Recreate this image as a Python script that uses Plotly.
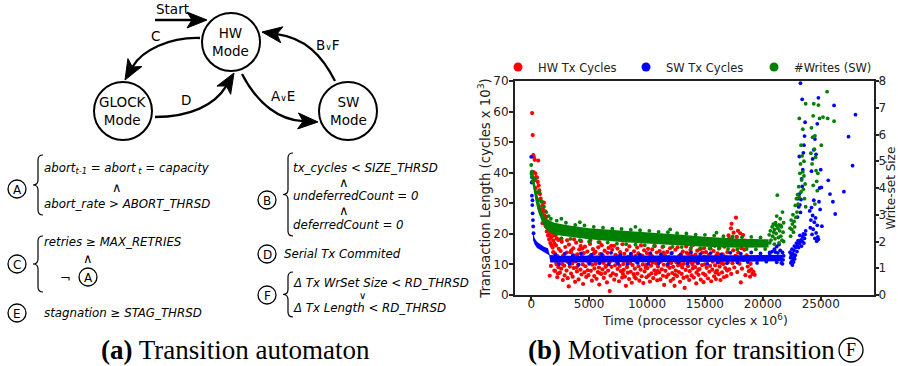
import math
import plotly.graph_objects as go

W, H = 898, 366

# ---------------- data ----------------
time_ticks = [0, 5000, 10000, 15000, 20000, 25000]
time_ticktext = ["0", "5000", "10000", "15000", "20000", "25000"]
len_ticks = [0, 10, 20, 30, 40, 50, 60, 70]
ws_ticks = [0, 1, 2, 3, 4, 5, 6, 7, 8]
series_names = ["HW Tx Cycles", "SW Tx Cycles", "#Writes (SW)"]
series_colors = ["#ff0000", "#0000ff", "#008000"]

# HW transaction length: (time x1e6 cycles, cycles x1e3)
hw_tx = [
    (80,59.5),(130,52.3),(180,45.8),(230,45.1),(300,44.2),(600,44.0),(200,40.2),(350,39.8),(420,38.6),(500,38.4),
    (260,37.5),(560,37.0),(640,35.8),(380,35.0),(700,34.2),(480,33.5),(760,33.0),(820,31.5),(600,31.0),(900,30.5),
    (950,29.2),(700,28.5),(1000,28.0),(1050,27.2),(880,26.5),(1150,26.0),(1100,25.0),(1200,24.2),(980,23.5),(1300,23.8),
    (1250,22.5),(1400,22.0),(1350,20.8),(1500,21.5),(1450,19.5),(1600,20.0),(1550,18.2),(1700,18.8),(1650,17.0),(1800,19.2),
    (1750,16.2),(1900,17.8),(1850,15.5),(2000,16.8),(1100,30.2),(1200,27.4),(1300,25.5),(1420,24.0),(1520,23.0),(1620,22.2),
    (1720,21.0),(1820,20.5),(1950,20.2),(2100,19.5),(2200,18.5),(2350,18.0),(1900,14.0),(1700,9.5),(1600,6.3),(1800,12.5),
    (2000,8.0),(2200,10.0),(2600,18.4),(3100,17.9),(3700,18.2),(4300,17.6),(5100,17.8),(5900,17.2),
    (2030,13.6),(2060,7.9),(2140,16.2),(2180,10.4),(2250,5.8),(2270,12.7),(2350,9.1),(2380,15.1),(2450,11.2),(2480,7.3),
    (2540,14.4),(2590,8.6),(2640,17.4),(2690,10.1),(2730,4.9),(2770,13.0),(2850,9.6),(2880,6.4),(2940,15.7),(2990,11.6),
    (3050,8.0),(3080,13.9),(3150,5.5),(3170,10.8),(3240,2.8),(3260,16.5),(3330,9.3),(3370,12.1),(3440,7.0),(3460,14.6),
    (3550,10.3),(3580,6.0),(3640,15.3),(3670,8.8),(3750,12.9),(3790,4.3),(3850,11.0),(3880,17.1),(3950,7.7),(3990,13.3),
    (4040,9.8),(4090,5.1),(4150,14.9),(4180,11.4),(4250,8.3),(4270,16.0),(4340,6.7),(4380,12.6),(4450,10.0),(4480,3.6),
    (4540,13.7),(4590,7.4),(4640,15.8),(4680,9.4),(4750,5.9),(4770,11.9),(4850,14.2),(4880,8.1),(4940,6.5),(4990,12.4),
    (5050,10.6),(5080,16.7),(5150,7.9),(5170,13.0),(5240,4.7),(5270,9.9),(5330,15.0),(5370,11.3),(5440,6.2),(5460,8.7),
    (5550,14.1),(5580,10.2),(5640,5.3),(5680,12.2),(5750,7.5),(5790,15.6),(5850,9.0),(5880,3.4),(5950,13.4),(5990,11.1),
    (6040,6.9),(6090,16.3),(6150,8.4),(6180,12.8),(6250,10.5),(6270,5.6),(6340,14.5),(6380,7.2),(6450,11.7),(6480,9.6),
    (6540,4.1),(6590,13.8),(6640,8.0),(6680,15.4),(6750,10.7),(6780,1.3),(6850,6.3),(6880,12.0),(6940,9.2),(6990,14.8),
    (7050,7.1),(7080,11.5),(7150,16.1),(7170,5.0),(7240,9.7),(7270,13.1),(7330,6.6),(7370,10.9),(7440,15.2),(7460,8.5),
    (7550,12.3),(7580,4.5),(7640,9.5),(7680,14.0),(7750,7.8),(7790,11.8),(7850,5.7),(7880,16.6),(7950,10.1),(7990,8.2),
    (8040,13.5),(8090,6.0),(8150,11.2),(8180,3.0),(8250,14.7),(8270,9.1),(8340,7.3),(8380,12.5),(8450,5.2),(8480,15.9),
    (8540,10.4),(8590,7.6),(8640,13.2),(8680,4.0),(8750,9.8),(8790,11.6),(8850,6.8),(8880,14.3),(8950,8.6),(9000,12.7),
    (9040,5.4),(9090,10.8),(9150,15.5),(9180,7.0),(9250,13.6),(9270,9.4),(9340,4.7),(9380,11.9),(9450,8.3),(9480,16.2),
    (9540,6.1),(9590,12.9),(9640,10.0),(9680,3.9),(9750,14.6),(9790,7.7),(9850,11.3),(9880,9.0),(9950,5.8),(9990,13.7),
    (10040,8.8),(10090,15.1),(10150,6.4),(10180,11.0),(10250,4.4),(10270,13.3),(10340,9.6),(10380,7.1),(10450,14.9),(10480,10.6),
    (10540,5.5),(10590,12.1),(10640,8.1),(10680,16.0),(10750,6.9),(10790,10.3),(10850,13.9),(10880,4.8),(10950,9.3),(11000,11.8),
    (11040,7.4),(11090,14.4),(11150,5.1),(11180,10.9),(11250,12.6),(11270,8.4),(11340,15.7),(11380,6.3),(11450,9.9),(11480,3.3),
    (11540,13.0),(11590,7.9),(11640,11.4),(11680,5.9),(11750,14.1),(11790,9.5),(11850,6.7),(11880,12.4),(11950,8.9),(11990,15.3),
    (12040,4.6),(12090,10.5),(12150,13.8),(12180,7.2),(12250,9.2),(12270,5.3),(12340,12.2),(12380,3.0),(12450,14.8),(12480,8.0),
    (12540,10.7),(12590,6.2),(12640,15.6),(12680,9.7),(12750,7.5),(12790,12.8),(12850,4.3),(12880,11.1),(12950,13.4),(12990,6.9),
    (13040,9.0),(13090,14.2),(13150,5.6),(13180,10.2),(13250,2.3),(13270,12.0),(13340,8.2),(13380,15.9),(13450,6.0),(13480,11.5),
    (13540,9.4),(13590,13.5),(13640,4.9),(13680,7.8),(13750,14.7),(13790,10.8),(13850,6.4),(13880,12.7),(13950,8.7),(13990,16.4),
    (14040,5.7),(14090,11.0),(14150,9.1),(14180,13.2),(14250,3.8),(14270,7.3),(14340,14.5),(14380,10.4),(14450,6.6),(14480,12.3),
    (14540,8.5),(14590,15.0),(14640,5.0),(14680,11.7),(14750,9.8),(14790,13.9),(14850,7.0),(14880,4.2),(14950,12.6),(14990,10.0),
    (15040,6.5),(15090,14.0),(15150,8.9),(15180,16.8),(15250,11.3),(15270,5.4),(15340,13.1),(15380,7.6),(15450,9.5),(15480,15.2),
    (15540,4.5),(15590,12.2),(15640,8.3),(15680,10.9),(15750,14.4),(15790,6.1),(15850,16.1),(15880,9.7),(15950,5.2),(15990,12.9),
    (16040,8.0),(16090,13.6),(16150,10.6),(16180,6.8),(16250,15.4),(16270,9.3),(16340,4.9),(16380,11.9),(16450,17.0),(16480,7.4),
    (16540,13.3),(16590,10.1),(16640,5.8),(16680,15.8),(16750,8.8),(16790,12.5),(16850,17.6),(16880,6.2),(16950,14.0),(16990,10.7),
    (17040,19.5),(17090,8.4),(17150,16.3),(17180,12.0),(17250,21.8),(17270,6.9),(17340,18.2),(17380,10.4),(17450,14.6),(17480,20.4),
    (17540,9.0),(17590,16.9),(17640,12.8),(17680,25.3),(17750,19.0),(17790,7.5),(17850,21.0),(17880,13.9),(17950,17.5),(17990,10.2),
    (18050,20.2),(18100,4.1),(18150,15.3),(18200,8.6),(18300,19.6),(18350,11.5),(18450,17.8),(18500,6.5),(18600,13.0),(18700,9.3),
    (18800,7.8),(18900,6.0),(19000,8.4),(19100,6.9),(19200,7.6),(19300,6.6),(18950,10.2),(18400,14.8),(17300,23.3),(17100,18.5),
    (2310,7.0),(2820,11.9),(3410,14.0),(3920,9.0),(4410,15.2),(4920,10.9),(5420,13.6),(5910,7.2),(6420,9.2),(6910,16.1),
    (7410,12.7),(7920,6.9),(8410,10.6),(8920,5.9),(9410,12.4),(9920,9.8),(10420,12.7),(10920,7.8),(11420,13.9),(11920,10.7),
    (12420,6.6),(12920,9.9),(13420,13.8),(13920,10.0),(14420,8.2),(14920,15.3),(15420,12.0),(15920,7.4),(16420,10.5),(16920,8.0),
]

# SW transaction length: dense core band (upper / lower edge) and scattered points
sw_core_upper = [(150,20.5),(300,18.6),(500,17.4),(800,16.5),(1100,15.8),(1450,15.3),(1600,13.1),(2000,12.8),
                 (6000,12.8),(10000,12.9),(14000,13.0),(18000,13.0),(21750,13.2)]
sw_core_lower = [(150,18.0),(300,16.5),(500,15.4),(800,14.6),(1100,14.0),(1550,13.0),(1650,10.6),(2000,10.5),
                 (6000,10.6),(10000,10.7),(14000,10.8),(18000,10.9),(21750,11.0)]
sw_tx = [
    (0,45.2),(40,36.8),(60,32.5),(90,29.4),(120,26.7),(150,24.5),(170,22.4),(200,20.2),(110,31.0),(70,38.5),
    (2100,13.2),(2900,13.5),(3600,13.0),(4300,13.6),(5200,13.1),(6100,13.4),(6900,13.8),(7700,13.2),(8600,13.5),(9400,13.1),
    (10300,13.7),(11200,13.3),(12100,13.6),(12900,13.2),(13800,13.9),(14600,13.4),(15500,13.7),(16400,13.3),(17200,13.8),(18100,13.5),
    (19000,13.9),(19800,13.6),(20600,13.9),
    (2400,10.1),(3300,10.3),(4100,9.9),(5000,10.2),(5900,10.4),(6700,10.0),(7500,10.3),(8300,10.1),(9200,10.5),(10100,10.2),
    (11000,10.4),(11800,10.1),(12700,10.6),(13500,10.3),(14400,10.5),(15200,10.2),(16100,10.7),(16900,10.4),(17800,10.6),(18700,10.8),
    (19500,10.5),(20300,10.9),(21200,10.7),
    (20600,13.5),(20800,14.2),(21000,15.0),(21100,14.0),(21200,15.8),(21300,13.8),(21400,16.5),(21500,14.6),(21600,12.5),(21700,13.9),
    (21750,11.5),(21800,12.8),(21600,10.5),(21700,10.2),(21450,12.0),
    (22350,14.0),(22400,12.2),(22420,10.5),(22450,13.2),(22500,11.0),(22520,15.0),(22550,9.8),(22580,12.0),(22600,13.5),(22650,10.8),
    (22680,14.6),(22700,12.5),(22720,16.0),(22750,11.8),(22800,13.0),(22850,15.5),(22900,17.0),(22950,14.2),(23000,16.2),(23050,17.8),
    (23100,15.5),(23150,16.8),(23200,19.5),(23250,17.4),(23300,18.0),(23350,16.0),(23400,17.5),(23450,19.0),(23500,20.0),(23550,17.0),
    (23600,18.5),(23650,19.8),(23700,21.0),
    (23000,25.5),(23050,31.5),(23100,28.8),(23150,33.0),(23200,29.5),(23250,27.0),(23300,31.2),(23350,38.0),(23400,35.5),(23450,41.0),
    (23500,46.5),(23550,49.0),(23600,52.0),(23650,56.5),(23400,64.0),(23250,69.3),(23150,45.3),
    (24050,27.5),(24100,22.0),(24150,24.5),(24200,28.6),(24250,19.8),(24300,26.0),(24350,21.5),(24400,31.0),(24450,23.8),(24500,18.5),
    (24550,25.2),(24600,20.3),(24650,17.6),(24700,22.8),(24750,19.0),(24800,18.2),(24850,30.5),(24900,35.0),(24950,28.0),(25000,41.0),
    (25050,35.2),(25100,22.5),(24300,44.5),(24400,47.5),(24500,51.0),(24600,46.0),(24700,56.0),(24200,40.5),(24800,64.5),
    (25650,37.5),(25800,33.0),(26050,30.5),(26250,26.5),(27000,33.8),(27400,51.8),(27750,42.3),(28000,59.0),(26150,62.0),
    (24600,73.0),(26000,74.0),(26900,75.0),(27700,74.6),(28150,77.8),(27400,72.5),(27900,71.8),
]

# Write-set size (right axis): dense core band and scattered points
ws_core_upper = [(50,4.75),(200,4.5),(400,4.0),(600,3.6),(800,3.3),(1000,3.05),(1200,2.9),(1400,2.82),(2000,2.7),
                 (3000,2.62),(5000,2.5),(8000,2.4),(10000,2.35),(13000,2.25),(15000,2.18),(18000,2.1),(20500,2.08)]
ws_core_lower = [(50,4.3),(200,3.9),(400,3.45),(600,3.1),(800,2.85),(1000,2.65),(1200,2.5),(1400,2.4),(2000,2.25),
                 (3000,2.18),(5000,2.08),(8000,1.97),(10000,1.92),(13000,1.85),(15000,1.8),(18000,1.77),(20500,1.78)]
sw_writes = [
    (0,4.86),(30,4.6),(70,4.42),(20,4.52),(100,4.25),(350,4.35),(700,3.85),(900,3.5),(1100,3.3),(1300,3.1),(1500,2.95),(1700,2.85),
    (2200,2.78),(3000,2.7),(3800,2.62),(4600,2.6),(5400,2.55),(6200,2.52),(7000,2.48),(7800,2.47),(8600,2.44),(9400,2.42),
    (10200,2.4),(11000,2.36),(11800,2.35),(12600,2.31),(13400,2.3),(14200,2.26),(15000,2.25),(15800,2.22),(16600,2.2),(17400,2.19),
    (18200,2.16),(19000,2.17),(19800,2.15),(2600,2.85),(4200,2.72),(9000,2.55),(12000,2.45),(16000,2.33),
    (2600,2.12),(3400,2.1),(4200,2.05),(5000,2.0),(5800,1.98),(6600,1.96),(7400,1.92),(8200,1.9),(9000,1.88),(9800,1.86),
    (10600,1.84),(11400,1.82),(12200,1.8),(13000,1.79),(13800,1.77),(14600,1.75),(15400,1.74),(16200,1.73),(17000,1.72),(17800,1.71),
    (18600,1.72),(19400,1.71),(20200,1.72),
    (20550,2.25),(20650,2.4),(20700,2.05),(20800,2.55),(20850,2.2),(20900,2.65),(20950,2.35),(21000,2.45),(21050,2.1),(21100,2.7),
    (21150,2.3),(21200,2.95),(21250,3.73),(21300,2.5),(21350,2.15),(21400,2.62),(21450,2.4),(21500,2.85),(21550,2.2),(21600,2.55),
    (21650,2.05),(21700,3.1),(21750,2.35),(21800,2.7),(20600,1.95),(21000,1.9),(21400,1.95),(21800,2.0),(21150,2.6),(21550,2.6),
    (22350,2.5),(22400,2.2),(22450,2.8),(22500,2.45),(22550,2.65),(22600,3.0),(22650,2.35),(22700,2.75),(22750,2.55),(22800,3.35),
    (22850,2.9),(22900,3.6),(22950,3.1),(23000,3.75),(23050,3.4),(23100,4.05),(23150,3.65),(23200,4.55),(23250,4.9),(23300,3.85),
    (23350,4.3),(23400,5.2),(23450,4.6),(23500,3.95),(23550,4.45),(23600,3.6),(23650,4.15),(23700,3.3),(23300,5.6),(23450,6.2),
    (23550,5.0),(23150,6.6),(23700,7.15),(24200,6.25),(24300,5.9),(24350,6.7),(24450,5.45),(24500,5.95),(24550,5.15),(24600,4.65),
    (24650,4.25),(24700,3.9),(24750,4.55),(24400,7.15),(24250,4.9),(24900,6.6),(25200,6.65),(24800,7.1),(26150,6.5),(25600,6.6),
    (24500,3.4),(24350,4.1),(24150,5.3),(25050,5.6),
    (23200,8.85),(23950,8.3),(24750,8.5),(25100,8.9),(25550,7.6),(25950,8.55),
]

# automaton texts
state_labels = ["HW<br>Mode", "GLOCK<br>Mode", "SW<br>Mode"]
edge_labels = ["Start", "C", "D", "A<span style='font-size:9px'>∨</span>E", "B<span style='font-size:9px'>∨</span>F"]
cond_letters = ["A", "C", "E", "B", "D", "F"]
cond_texts = [
    "abort<sub>t-1</sub> = abort<sub> t</sub> = capacity", "abort_rate > ABORT_THRSD",
    "retries ≥ MAX_RETRIES", "stagnation ≥ STAG_THRSD",
    "tx_cycles < SIZE_THRSD", "undeferredCount = 0", "deferredCount = 0",
    "Serial Tx Commited", "Δ Tx WrSet Size < RD_THRSD", "Δ Tx Length < RD_THRSD",
]
captions = ["<b>(a)</b> Transition automaton", "<b>(b)</b> Motivation for transition", "F"]
axis_titles = ["Time (processor cycles x 10<sup>6</sup>)", "Transaction Length (cycles x 10<sup>3</sup>)",
               "Write-set Size"]

# ---------------- helpers (pixel -> paper) ----------------
def fx(x):
    return x / W

def fy(y):
    return 1 - y / H

def pt(p):
    return f"{fx(p[0]):.5f},{fy(p[1]):.5f}"

shapes = []
annotations = []

def circle(cx, cy, r, lw):
    shapes.append(dict(type="circle", xref="paper", yref="paper", x0=fx(cx - r), x1=fx(cx + r),
                       y0=fy(cy + r), y1=fy(cy - r), line=dict(color="black", width=lw)))

def text(x, y, s, size, anchor="center", family="DejaVu Sans", angle=0, color="black"):
    annotations.append(dict(xref="paper", yref="paper", x=fx(x), y=fy(y), text=s, showarrow=False,
                            xanchor=anchor, yanchor="middle", align="center", borderpad=0, textangle=angle,
                            font=dict(family=family, size=size, color=color)))

def arrow(p0, p1, p2, tip, L=20, w=8, notch=5, lw=2.3):
    dx, dy = tip[0] - p2[0], tip[1] - p2[1]
    n = math.hypot(dx, dy)
    dx, dy = dx / n, dy / n
    end = (tip[0] - (L - notch) * dx, tip[1] - (L - notch) * dy)
    if p1 is None:
        path = f"M {pt(p0)} L {pt(end)}"
    else:
        path = f"M {pt(p0)} C {pt(p1)} {pt(p2)} {pt(end)}"
    shapes.append(dict(type="path", xref="paper", yref="paper", path=path, line=dict(color="black", width=lw)))
    nx, ny = -dy, dx
    base = (tip[0] - L * dx, tip[1] - L * dy)
    a = (base[0] + w * nx, base[1] + w * ny)
    b = (base[0] - w * nx, base[1] - w * ny)
    hp = f"M {pt(tip)} L {pt(a)} L {pt(end)} L {pt(b)} Z"
    shapes.append(dict(type="path", xref="paper", yref="paper", path=hp, fillcolor="black",
                       line=dict(color="black", width=1)))

def brace(x, y1, y2, d=5, lw=1.2):
    ym = (y1 + y2) / 2
    path = (f"M {pt((x + d, y1))} Q {pt((x, y1))} {pt((x, y1 + d))} L {pt((x, ym - d))} "
            f"Q {pt((x, ym))} {pt((x - d, ym))} Q {pt((x, ym))} {pt((x, ym + d))} "
            f"L {pt((x, y2 - d))} Q {pt((x, y2))} {pt((x + d, y2))}")
    shapes.append(dict(type="path", xref="paper", yref="paper", path=path, line=dict(color="black", width=lw)))

def circled(cx, cy, letter, r=9, size=12):
    circle(cx, cy, r, 1.3)
    text(cx, cy + 0.5, letter, size)

# ---------------- automaton (left panel) ----------------
state_pos = [(231, 42), (123, 111), (348, 111)]
for lab, (cx, cy) in zip(state_labels, state_pos):
    circle(cx, cy, 29, 2)
    text(cx, cy, lab, 13.5)

arrow((155, 20), None, (155, 20), (207, 20))
arrow((200, 38), (170, 37), (142, 50), (125, 80))
arrow((155, 117), (190, 117), (215, 105), (234, 73))
arrow((242, 74), (258, 105), (280, 120), (318, 122))
arrow((335, 81), (322, 55), (305, 38), (262, 32))
for lab, (x, y) in zip(edge_labels, [(172, 9), (155, 36), (186, 100), (283, 96), (328, 45)]):
    text(x, y, lab, 13.5)

fs = 11.8
# A
circled(17, 189, cond_letters[0])
brace(38, 155, 215)
text(43, 168, "<i>" + cond_texts[0] + "</i>", fs, "left")
text(117, 187, "∧", 13)
text(43, 204, "<i>" + cond_texts[1] + "</i>", fs, "left")
# C
circled(17, 264, cond_letters[1])
brace(38, 236, 292)
text(43, 242, "<i>" + cond_texts[2] + "</i>", fs, "left")
text(88, 258, "∧", 13)
text(65, 277, "¬", 13)
circled(88, 277, "A")
# E
circled(17, 313, cond_letters[2])
text(43, 313, "<i>" + cond_texts[3] + "</i>", fs, "left")
# B
circled(267, 200, cond_letters[3])
brace(288, 153, 236)
text(292, 168, "<i>" + cond_texts[4] + "</i>", fs, "left")
text(344, 182, "∧", 13)
text(292, 196, "<i>" + cond_texts[5] + "</i>", fs, "left")
text(344, 210, "∧", 13)
text(292, 225, "<i>" + cond_texts[6] + "</i>", fs, "left")
# D
circled(267, 254, cond_letters[4])
text(283, 254, "<i>" + cond_texts[7] + "</i>", fs, "left")
# F
circled(267, 295, cond_letters[5])
brace(288, 272, 317)
text(292, 283, "<i>" + cond_texts[8] + "</i>", fs, "left")
text(362, 295.5, "∨", 10)
text(292, 308, "<i>" + cond_texts[9] + "</i>", fs, "left")

# captions
text(235, 350, captions[0], 27, "center", "Liberation Serif")
text(836, 350, captions[1], 27, "right", "Liberation Serif")
circle(851, 350, 12, 1.3)
text(851, 350, captions[2], 18, "center", "Liberation Serif")

# axis titles placed at the reference positions
text(695, 319.5, axis_titles[0], 12.5, "center", "DejaVu Sans", 0, "#222")
text(890.5, 188, axis_titles[2], 12, "center", "DejaVu Sans", -90, "#222")

# ---------------- scatter chart (right panel) ----------------
fig = go.Figure()

def xs(pts):
    return [p[0] for p in pts]

def ys(pts):
    return [p[1] for p in pts]

def band(upper, lower):
    return xs(upper) + xs(lower)[::-1], ys(upper) + ys(lower)[::-1]

fig.add_trace(go.Scatter(x=xs(hw_tx), y=ys(hw_tx), mode="markers", showlegend=False, cliponaxis=False,
                         marker=dict(color=series_colors[0], size=4.2, line=dict(width=0)), yaxis="y"))
bx, by = band(sw_core_upper, sw_core_lower)
fig.add_trace(go.Scatter(x=bx, y=by, mode="lines", fill="toself", fillcolor=series_colors[1],
                         line=dict(width=0, color=series_colors[1]), showlegend=False, hoverinfo="skip", yaxis="y"))
fig.add_trace(go.Scatter(x=xs(sw_tx), y=ys(sw_tx), mode="markers", showlegend=False, cliponaxis=False,
                         marker=dict(color=series_colors[1], size=3.8, line=dict(width=0)), yaxis="y"))
gx, gy = band(ws_core_upper, ws_core_lower)
fig.add_trace(go.Scatter(x=gx, y=gy, mode="lines", fill="toself", fillcolor=series_colors[2],
                         line=dict(width=0, color=series_colors[2]), showlegend=False, hoverinfo="skip", yaxis="y2"))
fig.add_trace(go.Scatter(x=xs(sw_writes), y=ys(sw_writes), mode="markers", showlegend=False, cliponaxis=False,
                         marker=dict(color=series_colors[2], size=3.8, line=dict(width=0)), yaxis="y2"))
for name, col in zip(series_names, series_colors):
    fig.add_trace(go.Scatter(x=[None], y=[None], mode="markers", name=name,
                             marker=dict(color=col, size=9)))

tick_font = dict(family="DejaVu Sans", size=12, color="#222")
axis_line = dict(showline=True, linewidth=2, linecolor="#222", ticks="outside", tickwidth=1.5,
                 tickcolor="#222", showgrid=False, zeroline=False, tickfont=tick_font, tickmode="array",
                 ticklabeloverflow="allow", automargin=False)

fig.update_layout(
    width=W, height=H, autosize=False,
    margin=dict(l=0, r=0, t=0, b=0, pad=0, autoexpand=False),
    paper_bgcolor="white", plot_bgcolor="white",
    xaxis=dict(domain=[515 / W, 874 / W], range=[-1400, 29600], tickvals=time_ticks, ticktext=time_ticktext,
               mirror=True, anchor="y", ticklen=4, ticklabelstandoff=-7, **axis_line),
    yaxis=dict(domain=[1 - 295 / H, 1 - 81 / H], range=[0, 70], tickvals=len_ticks,
               ticktext=[str(v) for v in len_ticks], mirror=True, anchor="x", ticklen=4, ticklabelstandoff=-2,
               title=dict(text=axis_titles[1], standoff=0,
                          font=dict(family="DejaVu Sans", size=13.2, color="#222")),
               **axis_line),
    yaxis2=dict(overlaying="y", side="right", range=[0, 8], tickvals=ws_ticks,
                ticktext=[str(v) for v in ws_ticks], anchor="x", ticklen=3, ticklabelstandoff=-3,
                **axis_line),
    legend=dict(orientation="h", x=498 / W, y=1 - 67 / H, xanchor="left", yanchor="middle",
                font=dict(family="DejaVu Sans", size=11.5, color="#222"), bgcolor="rgba(0,0,0,0)",
                entrywidth=83, entrywidthmode="pixels", itemsizing="trace"),
    shapes=shapes, annotations=annotations,
)

fig.write_html("out.html")
